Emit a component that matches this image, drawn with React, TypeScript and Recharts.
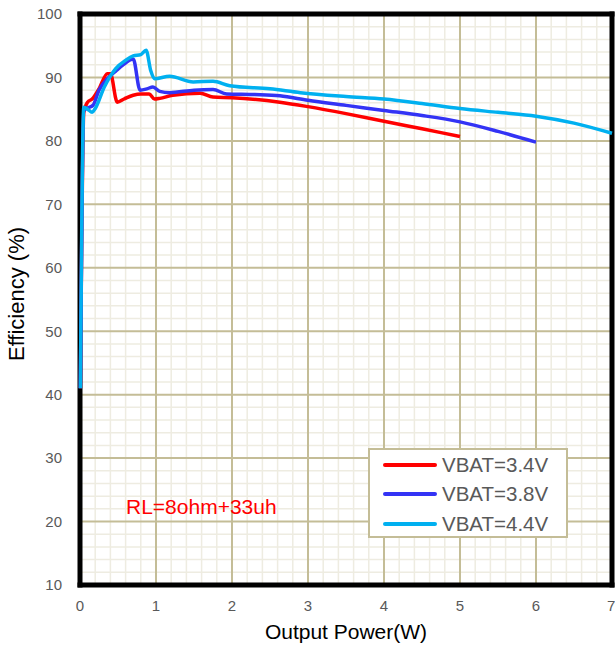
import React from "react";
import { LineChart, Line, XAxis, YAxis, ReferenceLine } from "recharts";

// VBAT = 3.4V
const powerA = [0.005, 0.05, 0.1, 0.16, 0.25, 0.36, 0.4, 0.49, 0.58, 0.7, 0.8, 0.91, 0.98, 1.05, 1.22, 1.58, 1.75, 2.0, 2.63, 3.0, 3.5, 4.0, 4.5, 5.0];
const effA = [41, 84.5, 86.1, 86.6, 88.2, 90.6, 90.6, 86.1, 86.6, 87.2, 87.4, 87.4, 86.6, 86.7, 87.2, 87.5, 86.9, 86.8, 86.1, 85.4, 84.3, 83.1, 81.9, 80.7];

// VBAT = 3.8V
const powerB = [0.005, 0.05, 0.1, 0.17, 0.25, 0.36, 0.47, 0.58, 0.7, 0.79, 0.88, 0.96, 1.05, 1.18, 1.5, 1.75, 1.93, 2.3, 2.63, 3.0, 3.5, 4.0, 4.5, 5.0, 5.5, 6.0];
const effB = [41, 84.8, 85.2, 85.6, 88.0, 89.8, 91.0, 92.1, 92.9, 88.0, 88.2, 88.5, 87.8, 87.6, 88.0, 88.1, 87.4, 87.3, 87.1, 86.4, 85.6, 84.8, 84.0, 83.0, 81.5, 79.8];

// VBAT = 4.4V
const powerC = [0.005, 0.05, 0.1, 0.16, 0.2, 0.32, 0.47, 0.6, 0.7, 0.8, 0.87, 0.93, 0.98, 1.18, 1.49, 1.75, 1.97, 2.5, 2.9, 3.5, 4.0, 4.5, 5.0, 5.5, 6.0, 6.5, 7.0];
const effC = [41, 85.3, 85.0, 84.5, 85.1, 88.5, 91.4, 92.7, 93.4, 93.6, 94.3, 91.1, 89.8, 90.2, 89.3, 89.4, 88.7, 88.2, 87.6, 87.0, 86.6, 85.9, 85.1, 84.5, 83.9, 82.8, 81.2];

const xTicks = [0, 1, 2, 3, 4, 5, 6, 7];
const yTicks = [10, 20, 30, 40, 50, 60, 70, 80, 90, 100];

const xMinor = Array.from({ length: 36 }, (_, i) => +(i * 0.2).toFixed(1)).filter((v) => v % 1 !== 0);
const yMinor = Array.from({ length: 46 }, (_, i) => 10 + i * 2).filter((v) => v % 10 !== 0);

const series = [
  { name: "VBAT=3.4V", color: "#ff0000", data: powerA.map((x, i) => ({ x, y: effA[i] })) },
  { name: "VBAT=3.8V", color: "#3333f5", data: powerB.map((x, i) => ({ x, y: effB[i] })) },
  { name: "VBAT=4.4V", color: "#00b0f0", data: powerC.map((x, i) => ({ x, y: effC[i] })) },
];

const font = '"Liberation Sans", Arial, sans-serif';

export default function App() {
  return (
    <div style={{ position: "absolute", left: 0, top: 0, width: 615, height: 649, background: "#fff", fontFamily: font }}>
      <LineChart width={615} height={649} margin={{ top: 14, right: 3, bottom: 0, left: 0 }}>
        <XAxis
          type="number"
          dataKey="x"
          domain={[0, 7]}
          ticks={xTicks}
          tick={{ fontSize: 15, fill: "#595959", fontFamily: font }}
          tickLine={false}
          axisLine={false}
          tickMargin={9}
          height={64}
          label={{ value: "Output Power(W)", position: "insideBottom", offset: 10, fontSize: 21, fill: "#000", fontFamily: font }}
        />
        <YAxis
          type="number"
          domain={[10, 100]}
          ticks={yTicks}
          tick={{ fontSize: 15, fill: "#595959", fontFamily: font }}
          tickLine={false}
          axisLine={false}
          tickMargin={12}
          width={80}
          label={{
            content: () => (
              <text x={16} y={294} transform="rotate(-90 16 294)" textAnchor="middle" dominantBaseline="central" fontSize={22} fill="#000" fontFamily={font}>
                Efficiency (%)
              </text>
            ),
          }}
        />
        {xMinor.map((v) => (
          <ReferenceLine key={"xm" + v} x={v} stroke="#eeece1" strokeWidth={1.5} />
        ))}
        {yMinor.map((v) => (
          <ReferenceLine key={"ym" + v} y={v} stroke="#eeece1" strokeWidth={1.5} />
        ))}
        {xTicks.slice(1, -1).map((v) => (
          <ReferenceLine key={"xM" + v} x={v} stroke="#c4bd97" strokeWidth={2} />
        ))}
        {yTicks.slice(1, -1).map((v) => (
          <ReferenceLine key={"yM" + v} y={v} stroke="#c4bd97" strokeWidth={2} />
        ))}
        {/* plot frame */}
        <ReferenceLine x={0} stroke="#000" strokeWidth={5} strokeLinecap="square" ifOverflow="visible" />
        <ReferenceLine x={7} stroke="#000" strokeWidth={5} strokeLinecap="square" ifOverflow="visible" />
        <ReferenceLine y={10} stroke="#000" strokeWidth={5} strokeLinecap="square" ifOverflow="visible" />
        <ReferenceLine y={100} stroke="#000" strokeWidth={5} strokeLinecap="square" ifOverflow="visible" />
        {series.map((s) => (
          <Line
            key={s.name}
            data={s.data}
            dataKey="y"
            type="monotone"
            stroke={s.color}
            strokeWidth={3.5}
            dot={false}
            isAnimationActive={false}
          />
        ))}
      </LineChart>
      <div
        style={{
          position: "absolute",
          left: 368,
          top: 448,
          width: 200,
          height: 90,
          border: "2px solid #c4bd97",
          background: "#fff",
          boxSizing: "border-box",
        }}
      >
        {series.map((s) => (
          <div key={s.name} style={{ display: "flex", alignItems: "center", height: 29.5 }}>
            <div style={{ marginLeft: 13, width: 54, height: 4, borderRadius: 2, background: s.color }} />
            <span style={{ marginLeft: 5, fontSize: 20.5, color: "#595959", lineHeight: "20px" }}>{s.name}</span>
          </div>
        ))}
      </div>
      <div style={{ position: "absolute", left: 126, top: 495, fontSize: 21, color: "#ff0000", lineHeight: "24px", whiteSpace: "nowrap" }}>
        RL=8ohm+33uh
      </div>
    </div>
  );
}
